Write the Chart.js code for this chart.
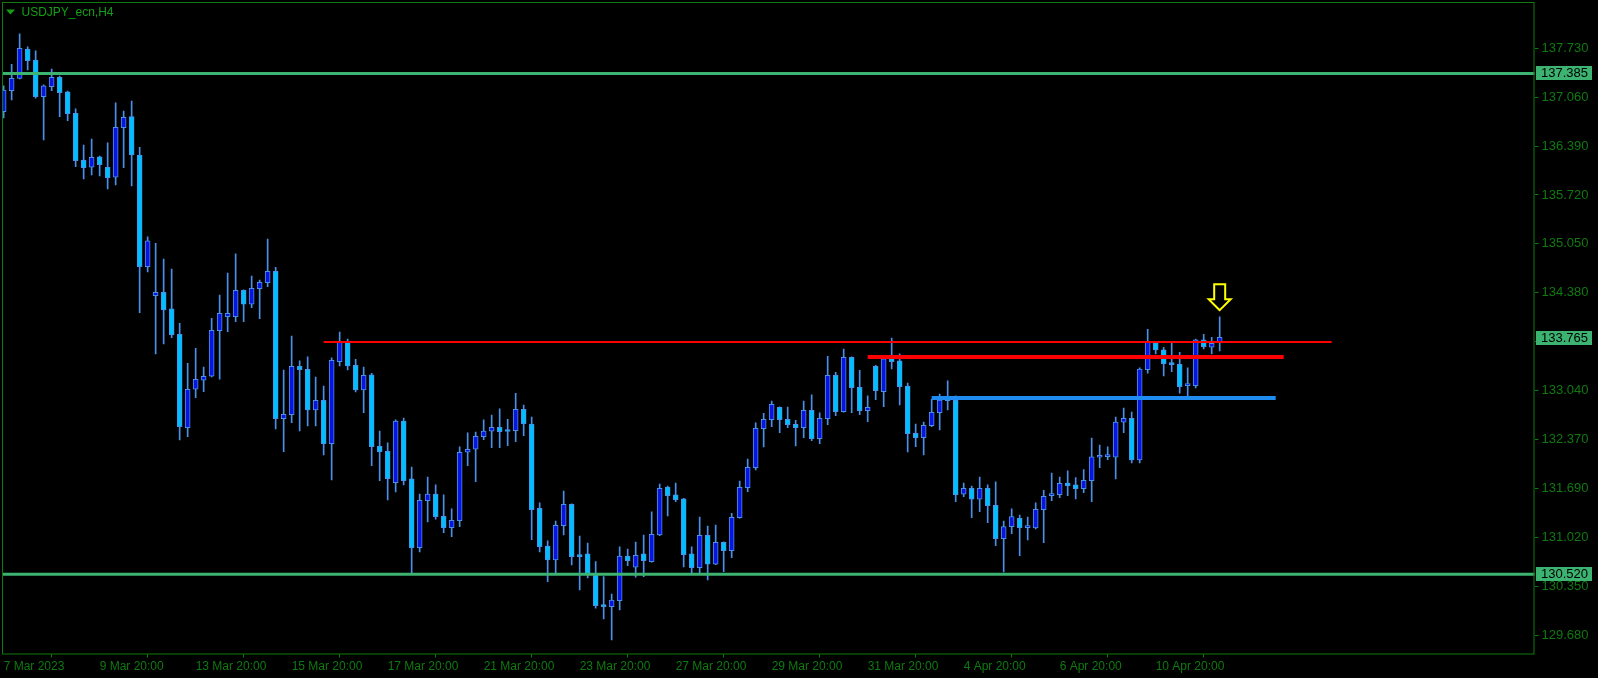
<!DOCTYPE html>
<html>
<head>
<meta charset="utf-8">
<title>USDJPY_ecn,H4</title>
<script src="https://cdn.jsdelivr.net/npm/chart.js@4.4.0/dist/chart.umd.min.js"></script>
<style>
  html, body { margin: 0; padding: 0; background: #000; }
  canvas { display: block; }
</style>
</head>
<body>
<canvas id="chart" width="1598" height="678"></canvas>
<script>
// H4 candles, 7 Mar 20:00 -> 12 Apr 04:00
const open = [
  136.862, 137.150, 137.319, 137.721, 137.570, 137.067, 137.204, 137.333, 137.132, 136.840,
  136.199, 136.099, 136.241, 136.099, 135.962, 136.642, 136.793, 136.268, 134.737, 134.339,
  134.386, 134.157, 133.810, 132.529, 133.056, 133.179, 133.234, 133.859, 134.051, 134.051,
  134.413, 134.221, 134.435, 134.517, 134.674, 132.653, 132.708, 133.371, 133.330, 132.772,
  132.905, 132.310, 133.434, 133.704, 133.385, 133.046, 133.252, 132.274, 132.206, 131.775,
  132.621, 131.826, 130.884, 131.528, 131.620, 131.315, 131.158, 131.254, 132.192, 132.233,
  132.406, 132.480, 132.535, 132.498, 132.488, 132.782, 132.580, 131.424, 130.907, 130.715,
  131.186, 131.479, 130.784, 130.798, 130.510, 130.098, 130.075, 130.157, 130.770, 130.615,
  130.798, 130.692, 131.058, 131.716, 131.607, 131.552, 130.798, 130.610, 131.054, 130.656,
  130.958, 130.843, 131.295, 131.707, 131.981, 132.515, 132.639, 132.809, 132.644, 132.576,
  132.529, 132.768, 132.378, 132.653, 133.248, 132.749, 133.494, 133.083, 132.762, 133.371,
  133.023, 133.481, 133.444, 133.101, 132.453, 132.392, 132.557, 132.735, 132.913, 132.909,
  131.616, 131.698, 131.548, 131.698, 131.465, 131.007, 131.172, 131.287, 131.158, 131.154,
  131.405, 131.597, 131.611, 131.771, 131.744, 131.693, 131.803, 132.123, 132.132, 132.123,
  132.603, 132.658, 132.086, 133.324, 133.695, 133.595, 133.412, 133.399, 133.105, 133.105,
  133.732, 133.632, 133.695
];
const high = [
  137.214, 137.511, 137.927, 137.749, 137.694, 137.228, 137.447, 137.351, 137.145, 136.899,
  136.405, 136.487, 136.254, 136.433, 136.981, 136.871, 137.008, 136.374, 135.144, 135.057,
  134.842, 134.705, 133.961, 133.412, 133.618, 133.361, 134.029, 134.348, 134.650, 134.911,
  134.420, 134.609, 134.554, 135.116, 134.728, 133.320, 133.786, 133.444, 133.499, 133.224,
  133.101, 133.485, 133.841, 133.745, 133.467, 133.361, 133.275, 132.484, 132.320, 132.635,
  132.662, 131.990, 131.620, 131.853, 131.744, 131.607, 131.415, 132.265, 132.457, 132.470,
  132.635, 132.703, 132.786, 132.644, 133.001, 132.840, 132.676, 131.497, 130.976, 131.250,
  131.661, 131.485, 131.044, 130.948, 130.692, 130.486, 130.249, 130.894, 130.866, 130.962,
  131.058, 131.374, 131.757, 131.730, 131.771, 131.560, 130.894, 131.305, 131.181, 131.195,
  130.965, 131.356, 131.798, 132.100, 132.594, 132.727, 132.895, 132.815, 132.813, 132.631,
  132.895, 132.978, 132.731, 133.508, 133.289, 133.608, 133.500, 133.316, 132.964, 133.385,
  133.480, 133.759, 133.540, 133.142, 132.580, 132.607, 132.919, 132.991, 133.170, 132.964,
  131.771, 131.730, 131.853, 131.744, 131.785, 131.250, 131.415, 131.332, 131.305, 131.497,
  131.671, 131.908, 131.853, 131.936, 131.844, 131.953, 132.388, 132.292, 132.265, 132.676,
  132.799, 132.744, 133.348, 133.878, 133.700, 133.632, 133.700, 133.563, 133.348, 133.745,
  133.810, 133.769, 134.047
];
const low = [
  136.775, 137.022, 137.310, 137.433, 137.045, 136.474, 137.150, 136.793, 136.738, 136.108,
  135.939, 135.994, 135.980, 135.802, 135.857, 136.094, 135.843, 134.106, 134.664, 133.540,
  133.677, 133.763, 132.361, 132.406, 132.940, 133.023, 133.225, 133.193, 133.845, 133.982,
  133.982, 134.174, 134.024, 134.462, 132.511, 132.200, 132.598, 132.484, 132.553, 132.553,
  132.155, 131.812, 133.375, 133.320, 133.019, 132.735, 132.008, 131.803, 131.538, 131.648,
  131.744, 130.537, 130.825, 131.236, 131.273, 131.090, 131.035, 131.172, 132.008, 131.789,
  132.365, 132.255, 132.255, 132.283, 132.337, 132.420, 130.994, 130.825, 130.418, 130.533,
  131.058, 130.647, 130.304, 130.469, 130.053, 129.907, 129.619, 130.030, 130.637, 130.478,
  130.486, 130.685, 131.049, 131.319, 131.515, 130.619, 130.533, 130.533, 130.441, 130.650,
  130.555, 130.747, 131.287, 131.652, 131.949, 132.265, 132.543, 132.461, 132.529, 132.278,
  132.392, 132.351, 132.310, 132.570, 132.694, 132.742, 132.735, 132.708, 132.612, 132.913,
  132.817, 133.334, 132.840, 132.196, 132.269, 132.155, 132.543, 132.498, 132.772, 131.515,
  131.583, 131.295, 131.378, 131.227, 130.911, 130.551, 131.076, 130.774, 130.990, 131.140,
  130.953, 131.528, 131.569, 131.597, 131.552, 131.638, 131.515, 131.981, 132.090, 131.826,
  132.461, 132.045, 132.045, 133.275, 133.540, 133.238, 133.297, 133.001, 132.954, 133.073,
  133.608, 133.540, 133.581
];
const close = [
  137.159, 137.319, 137.731, 137.561, 137.067, 137.214, 137.333, 137.122, 136.834, 136.190,
  136.094, 136.236, 136.135, 135.957, 136.648, 136.785, 136.268, 134.737, 135.089, 134.386,
  134.143, 133.800, 132.543, 133.056, 133.193, 133.234, 133.865, 134.098, 134.098, 134.413,
  134.221, 134.440, 134.523, 134.674, 132.653, 132.713, 133.371, 133.324, 132.772, 132.905,
  132.310, 133.453, 133.704, 133.375, 133.046, 133.248, 132.269, 132.200, 131.830, 132.621,
  131.803, 130.884, 131.534, 131.620, 131.309, 131.158, 131.260, 132.192, 132.233, 132.411,
  132.484, 132.535, 132.474, 132.477, 132.782, 132.584, 131.405, 130.898, 130.715, 131.191,
  131.479, 130.761, 130.761, 130.510, 130.089, 130.075, 130.167, 130.770, 130.706, 130.780,
  130.706, 131.068, 131.698, 131.597, 131.542, 130.788, 130.610, 131.054, 130.656, 130.958,
  130.843, 131.301, 131.712, 131.986, 132.521, 132.644, 132.850, 132.639, 132.570, 132.529,
  132.768, 132.378, 132.658, 133.248, 132.749, 133.494, 133.078, 132.762, 132.809, 133.037,
  133.474, 133.434, 133.091, 132.447, 132.392, 132.562, 132.740, 132.909, 132.899, 131.607,
  131.698, 131.548, 131.698, 131.460, 131.007, 131.172, 131.309, 131.158, 131.168, 131.410,
  131.589, 131.611, 131.767, 131.734, 131.693, 131.808, 132.128, 132.141, 132.155, 132.607,
  132.658, 132.086, 133.334, 133.708, 133.595, 133.407, 133.393, 133.091, 133.115, 133.732,
  133.640, 133.686, 133.769
];

// axis ticks
const xTickIndex = [0, 12, 24, 36, 48, 60, 72, 84, 96, 108, 120, 132, 144];
const xTickLabels = ['7 Mar 2023', '9 Mar 20:00', '13 Mar 20:00', '15 Mar 20:00', '17 Mar 20:00',
  '21 Mar 20:00', '23 Mar 20:00', '27 Mar 20:00', '29 Mar 20:00', '31 Mar 20:00',
  '4 Apr 20:00', '6 Apr 20:00', '10 Apr 20:00'];
const yTickValues = [137.730, 137.060, 136.390, 135.720, 135.050, 134.380, 133.710,
  133.040, 132.370, 131.690, 131.020, 130.350, 129.680];

// drawn objects (price levels, bar-index spans)
const greenLevels = [137.385, 130.520];
const redLevel = 133.704;
const redLevelSpan = [40, 166];
const redZone = 133.499;
const redZoneSpan = [108, 160];
const blueLevel = 132.936;
const blueLevelSpan = [116, 159];
const priceTags = [137.385, 133.765, 130.520];
const arrowBar = 152;
const arrowPrice = 134.14;

const X_MIN = -0.08, X_MAX = 191.35;
const Y_MIN = 129.433, Y_MAX = 138.365;
const AXIS_GREEN = '#0f7a0f';
const FONT = '"Liberation Sans", Arial, sans-serif';

const idx = open.map((_, i) => i);
const isBull = idx.map(i => close[i] >= open[i]);

function levelLine(price, span, color, width) {
  return {
    type: 'line',
    data: [{ x: span[0], y: price }, { x: span[1], y: price }],
    borderColor: color,
    borderWidth: width,
    pointRadius: 0,
    order: 0
  };
}

const mtDecor = {
  id: 'mtDecor',
  beforeDraw(chart) {
    const c = chart.ctx;
    c.save();
    c.fillStyle = '#000';
    c.fillRect(0, 0, chart.width, chart.height);
    c.restore();
  },
  afterDraw(chart) {
    const c = chart.ctx;
    const a = chart.chartArea;
    const xs = chart.scales.x, ys = chart.scales.y;
    c.save();

    // frame
    c.strokeStyle = AXIS_GREEN;
    c.lineWidth = 1;
    c.strokeRect(Math.floor(a.left) - 0.5, Math.floor(a.top) + 0.5, a.right - a.left, a.bottom - a.top);

    // price tags on the right axis
    c.font = '13px ' + FONT;
    c.textBaseline = 'middle';
    priceTags.forEach(p => {
      const y = Math.round(ys.getPixelForValue(p));
      c.fillStyle = '#3cb371';
      c.fillRect(a.right + 1.5, y - 7, 56, 14);
      c.fillStyle = '#000';
      c.fillText(p.toFixed(3), a.right + 6.5, y + 0.5);
    });

    // down arrow above the last bar
    const tx = xs.getPixelForValue(arrowBar), ty = ys.getPixelForValue(arrowPrice);
    c.beginPath();
    c.moveTo(tx, ty);
    c.lineTo(tx - 11, ty - 11);
    c.lineTo(tx - 5.5, ty - 11);
    c.lineTo(tx - 5.5, ty - 26);
    c.lineTo(tx + 5.5, ty - 26);
    c.lineTo(tx + 5.5, ty - 11);
    c.lineTo(tx + 11, ty - 11);
    c.closePath();
    c.strokeStyle = '#ffff00';
    c.lineWidth = 2;
    c.stroke();

    // symbol title
    c.fillStyle = '#13a013';
    c.beginPath();
    c.moveTo(6, 9.5);
    c.lineTo(15, 9.5);
    c.lineTo(10.5, 14.5);
    c.closePath();
    c.fill();
    c.font = '12px ' + FONT;
    c.textBaseline = 'middle';
    c.fillText('USDJPY_ecn,H4', 21.5, 12.5);
    c.restore();
  }
};

new Chart(document.getElementById('chart'), {
  type: 'bar',
  data: {
    datasets: [
      {
        label: 'wick',
        data: idx.map(i => ({ x: i, y: [low[i], high[i]] })),
        backgroundColor: '#4a90e8',
        barThickness: 1,
        grouped: false,
        order: 2
      },
      {
        label: 'body',
        data: idx.map(i => ({ x: i, y: [open[i], close[i]] })),
        backgroundColor: idx.map(i => isBull[i] ? '#0a14e0' : '#00bfff'),
        borderColor: '#4a90e8',
        borderWidth: 1,
        borderSkipped: false,
        barThickness: 5,
        minBarLength: 2,
        grouped: false,
        order: 1
      },
      ...greenLevels.map(p => levelLine(p, [X_MIN - 1, X_MAX + 1], '#3cb371', 3)),
      levelLine(redLevel, redLevelSpan, '#ff0000', 2),
      levelLine(redZone, redZoneSpan, '#ff0000', 4),
      levelLine(blueLevel, blueLevelSpan, '#1e8cf0', 4)
    ]
  },
  options: {
    responsive: false,
    devicePixelRatio: 1,
    animation: false,
    layout: { padding: { left: 3, top: 2, right: 0, bottom: 0 } },
    plugins: {
      legend: { display: false },
      tooltip: { enabled: false }
    },
    scales: {
      x: {
        type: 'linear',
        min: X_MIN,
        max: X_MAX,
        offset: false,
        afterBuildTicks: s => { s.ticks = xTickIndex.map(v => ({ value: v })); },
        afterFit: s => { s.height = 24.5; s.paddingLeft = 0; s.paddingRight = 0; },
        grid: { drawOnChartArea: false, drawTicks: true, tickLength: 4, color: AXIS_GREEN },
        border: { display: false },
        ticks: {
          autoSkip: false,
          maxRotation: 0,
          align: 'start',
          padding: 2,
          color: AXIS_GREEN,
          font: { family: FONT, size: 12 },
          callback: (v, i) => xTickLabels[i]
        }
      },
      y: {
        position: 'right',
        min: Y_MIN,
        max: Y_MAX,
        afterBuildTicks: s => { s.ticks = yTickValues.map(v => ({ value: v })); },
        afterFit: s => { s.width = 63.5; s.paddingTop = 0; s.paddingBottom = 0; },
        grid: { drawOnChartArea: false, drawTicks: true, tickLength: 4, color: AXIS_GREEN },
        border: { display: false },
        ticks: {
          autoSkip: false,
          padding: 3,
          color: AXIS_GREEN,
          font: { family: FONT, size: 13 },
          callback: v => v.toFixed(3)
        }
      }
    }
  },
  plugins: [mtDecor]
});
</script>
</body>
</html>
